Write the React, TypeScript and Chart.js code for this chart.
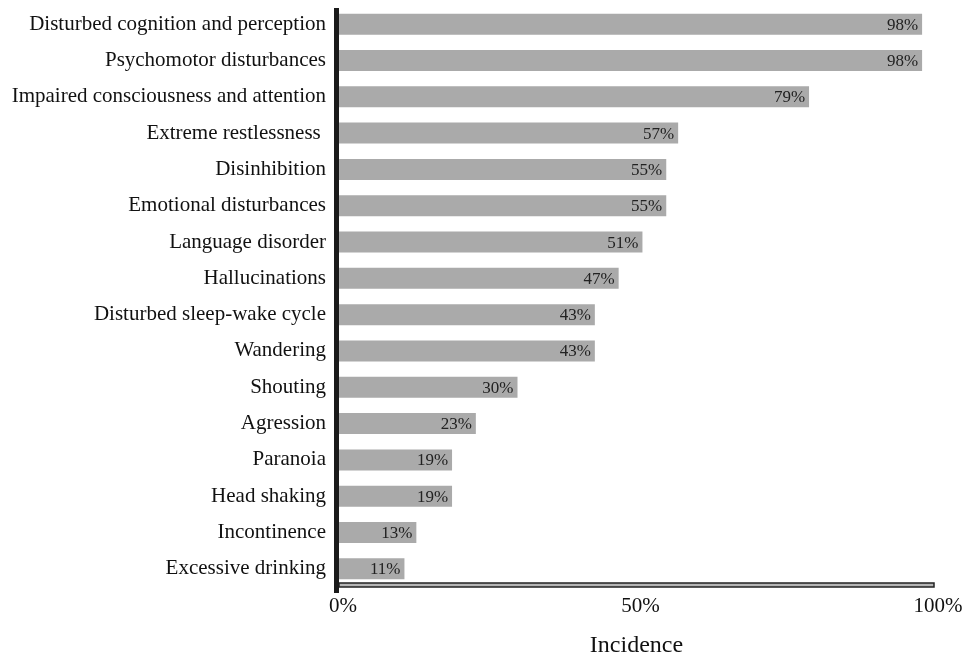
import React, { useEffect, useRef } from "react";
import { Chart, registerables } from "chart.js";

Chart.register(...registerables);

const categories = [
  "Disturbed cognition and perception",
  "Psychomotor disturbances",
  "Impaired consciousness and attention",
  "Extreme restlessness ",
  "Disinhibition",
  "Emotional disturbances",
  "Language disorder",
  "Hallucinations",
  "Disturbed sleep-wake cycle",
  "Wandering",
  "Shouting",
  "Agression",
  "Paranoia",
  "Head shaking",
  "Incontinence",
  "Excessive drinking",
];

const incidence = [98, 98, 79, 57, 55, 55, 51, 47, 43, 43, 30, 23, 19, 19, 13, 11];

const xTicks = [0, 50, 100];

const FONT = "'Liberation Serif', 'Times New Roman', serif";

const axesPlugin = {
  id: "customAxes",
  afterDraw(chart: any) {
    const ctx = chart.ctx;
    const a = chart.chartArea;
    ctx.save();
    // x axis hollow bar
    ctx.fillStyle = "#b5b5b5";
    ctx.strokeStyle = "#222";
    ctx.lineWidth = 1.5;
    ctx.fillRect(a.left, a.bottom - 4, a.right - a.left, 4);
    ctx.strokeRect(a.left, a.bottom - 4, a.right - a.left, 4);
    // y axis thick line
    ctx.fillStyle = "#1a1a1a";
    ctx.fillRect(a.left - 5, a.top + 2, 5, a.bottom - a.top + 4);
    ctx.restore();
  },
};

const valuePlugin = {
  id: "valueLabels",
  afterDatasetsDraw(chart: any) {
    const ctx = chart.ctx;
    const meta = chart.getDatasetMeta(0);
    ctx.save();
    ctx.font = `17px ${FONT}`;
    ctx.fillStyle = "#222";
    ctx.textAlign = "right";
    ctx.textBaseline = "middle";
    meta.data.forEach((bar: any, i: number) => {
      ctx.fillText(`${incidence[i]}%`, bar.x - 4, bar.y + 1);
    });
    ctx.restore();
  },
};

export default function App() {
  const ref = useRef<HTMLCanvasElement>(null);
  useEffect(() => {
    if (!ref.current) return;
    const chart = new Chart(ref.current, {
      type: "bar",
      data: {
        labels: categories,
        datasets: [
          {
            data: incidence,
            backgroundColor: "#aaaaaa",
            borderWidth: 0,
            barPercentage: 0.58,
            categoryPercentage: 1,
          },
        ],
      },
      options: {
        indexAxis: "y",
        animation: false,
        responsive: false,
        maintainAspectRatio: false,
        layout: { padding: { left: 0, right: 37, top: 6, bottom: 0 } },
        plugins: {
          legend: { display: false },
          tooltip: { enabled: false },
        },
        scales: {
          x: {
            min: 0,
            max: 100,
            afterBuildTicks(scale: any) {
              scale.ticks = xTicks.map((v) => ({ value: v }));
            },
            afterFit(scale: any) {
              scale.height = 68;
              scale.paddingLeft = 0;
              scale.paddingRight = 0;
            },
            grid: { display: false, drawTicks: false },
            border: { display: false },
            ticks: {
              padding: 7,
              labelOffset: 4,
              color: "#111",
              font: { family: FONT, size: 21 },
              callback: (v: any) => `${v}%`,
            },
            title: {
              display: true,
              text: "Incidence",
              color: "#111",
              font: { family: FONT, size: 24 },
              padding: { top: 10, bottom: -5 },
            },
          },
          y: {
            afterFit(scale: any) {
              scale.width = 339;
              scale.paddingTop = 0;
              scale.paddingBottom = 0;
            },
            grid: { display: false, drawTicks: false },
            border: { display: false },
            ticks: {
              padding: 13,
              color: "#111",
              font: { family: FONT, size: 21 },
            },
          },
        },
      },
      plugins: [axesPlugin, valuePlugin],
    });
    return () => chart.destroy();
  }, []);
  return (
    <div style={{ position: "fixed", left: 0, top: 0, width: 971, height: 655, background: "#fff" }}>
      <canvas ref={ref} width={971} height={655} style={{ width: 971, height: 655 }} />
    </div>
  );
}
